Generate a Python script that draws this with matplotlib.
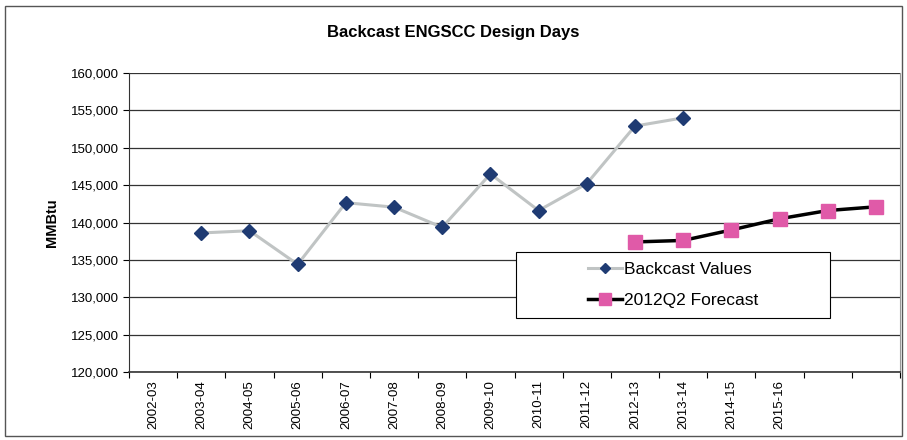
import numpy as np
import matplotlib.pyplot as plt
from matplotlib.patches import Rectangle

plt.rcParams['font.family'] = ['Liberation Sans', 'DejaVu Sans']

seasons = ['2002-03', '2003-04', '2004-05', '2005-06', '2006-07', '2007-08',
           '2008-09', '2009-10', '2010-11', '2011-12', '2012-13', '2013-14',
           '2014-15', '2015-16', '', '']
backcast = [np.nan, 138600, 138900, 134400, 142650, 142050, 139350,
            146500, 141600, 145200, 152900, 154000, np.nan, np.nan, np.nan, np.nan]
forecast = [np.nan] * 10 + [137400, 137600, 139000, 140500, 141600, 142100]

x = np.arange(len(seasons))

fig = plt.figure(figsize=(9.07, 4.4), dpi=100)
ax = fig.add_axes([129 / 907, 1 - 372 / 440, (900 - 129) / 907, (372 - 73) / 440])

ax.plot(x, backcast, color='#c0c4c4', lw=2.2, marker='D', ms=7,
        mfc='#1f3b73', mec='#1f3b73', label='Backcast Values', zorder=3)
ax.plot(x, forecast, color='black', lw=2.5, marker='s', ms=10,
        mfc='#e05aa8', mec='#e05aa8', label='2012Q2 Forecast', zorder=3)

ax.set_xlim(-0.5, len(seasons) - 0.5)
ax.set_ylim(120000, 160000)
ax.set_yticks(np.arange(120000, 160001, 5000))
ax.yaxis.set_major_formatter(plt.FuncFormatter(lambda v, p: f'{int(v):,}'))
ax.tick_params(axis='y', labelsize=9.5, length=4, direction='out', width=0.8)
ax.grid(axis='y', color='#333333', lw=0.9)
ax.set_axisbelow(True)

ax.set_xticks(np.arange(-0.5, len(seasons), 1))
ax.set_xticklabels([])
ax.set_xticks(x, minor=True)
ax.set_xticklabels(seasons, minor=True, rotation=90, fontsize=9.5)
ax.tick_params(axis='x', which='minor', length=0, pad=6)
ax.tick_params(axis='x', which='major', length=4, direction='out', width=0.8)

ax.spines['top'].set_visible(False)
ax.spines['right'].set_color('#999999')
ax.spines['left'].set_color('#333333')
ax.spines['bottom'].set_color('#333333')
ax.spines['bottom'].set_linewidth(1.2)

ax.set_ylabel('MMBtu', fontsize=10.5, fontweight='bold', labelpad=8)
fig.text(0.5, 1 - 32 / 440, 'Backcast ENGSCC Design Days', ha='center',
         va='center', fontsize=12, fontweight='bold')

# legend box with centered contents
box = Rectangle((516 / 907, 1 - 318 / 440), (830 - 516) / 907, (318 - 252) / 440,
                transform=fig.transFigure, facecolor='white', edgecolor='black',
                lw=0.8, zorder=4)
fig.patches.append(box)
leg = fig.legend(*ax.get_legend_handles_labels(), loc='center',
                 bbox_to_anchor=(673 / 907, 1 - 285 / 440), fontsize=12.5,
                 frameon=False, handlelength=2.0, handletextpad=0.1,
                 labelspacing=0.95, markerscale=0.8)
leg.set_zorder(5)

fig.patches.append(Rectangle((5 / 907, 4 / 440), 897 / 907, 430 / 440,
                             transform=fig.transFigure, fill=False,
                             edgecolor='#555555', lw=1))

fig.savefig('out.png', dpi=100)
